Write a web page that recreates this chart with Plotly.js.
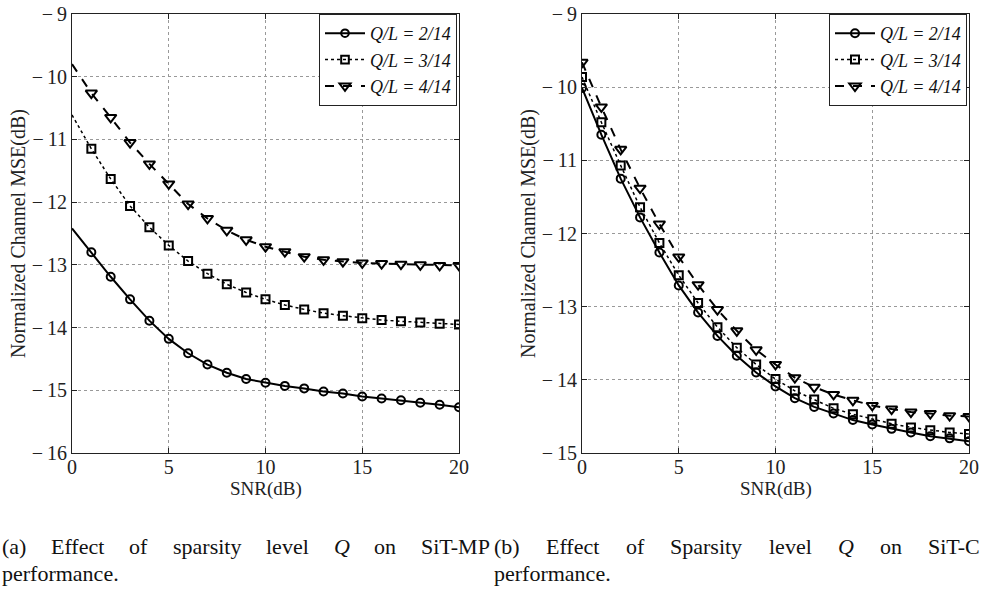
<!DOCTYPE html>
<html>
<head>
<meta charset="utf-8">
<script src="https://cdn.plot.ly/plotly-3.0.1.min.js"></script>
<style>
html,body{margin:0;padding:0;background:#fff;}
#chart{width:981px;height:590px;}
</style>
</head>
<body>
<div id="chart"></div>
<script>
// ---- data ----
const snr = [0,1,2,3,4,5,6,7,8,9,10,11,12,13,14,15,16,17,18,19,20];
const seriesNames = ["Q/L = 2/14", "Q/L = 3/14", "Q/L = 4/14"];

// (a) SiT-MP
const mpQ2 = [-12.42,-12.80,-13.19,-13.55,-13.89,-14.18,-14.41,-14.59,-14.72,-14.82,-14.88,-14.93,-14.97,-15.02,-15.05,-15.10,-15.13,-15.16,-15.20,-15.23,-15.27];
const mpQ3 = [-10.61,-11.15,-11.63,-12.06,-12.40,-12.69,-12.94,-13.14,-13.31,-13.44,-13.55,-13.64,-13.71,-13.77,-13.81,-13.85,-13.88,-13.90,-13.92,-13.94,-13.95];
const mpQ4 = [-9.80,-10.26,-10.65,-11.05,-11.39,-11.71,-12.03,-12.26,-12.45,-12.60,-12.71,-12.79,-12.87,-12.92,-12.95,-12.97,-12.98,-12.99,-13.00,-13.01,-13.01];

// (b) SiT-C
const cQ2 = [-10.01,-10.65,-11.25,-11.78,-12.26,-12.71,-13.08,-13.40,-13.67,-13.90,-14.09,-14.25,-14.37,-14.46,-14.55,-14.61,-14.67,-14.72,-14.77,-14.80,-14.84];
const cQ3 = [-9.86,-10.48,-11.07,-11.64,-12.13,-12.57,-12.95,-13.28,-13.56,-13.79,-13.99,-14.15,-14.27,-14.39,-14.47,-14.54,-14.60,-14.65,-14.69,-14.72,-14.74];
const cQ4 = [-9.66,-10.27,-10.85,-11.38,-11.87,-12.32,-12.70,-13.04,-13.33,-13.59,-13.79,-13.97,-14.10,-14.20,-14.28,-14.35,-14.40,-14.44,-14.46,-14.49,-14.50];

const xTicks = [0,5,10,15,20];
const yTicksA = [-16,-15,-14,-13,-12,-11,-10,-9];
const yTicksB = [-15,-14,-13,-12,-11,-10,-9];
const xTitle = "SNR(dB)";
const yTitle = "Normalized Channel MSE(dB)";
const captionA1 = ["(a)", "Effect", "of", "sparsity", "level", "<i>Q</i>", "on", "SiT-MP"];
const captionA2 = "performance.";
const captionB1 = ["(b)", "Effect", "of", "Sparsity", "level", "<i>Q</i>", "on", "SiT-C"];
const captionB2 = "performance.";

// ---- styles ----
const FONT = "Liberation Serif";
const W = 981, H = 590;
const M = {l:0, r:0, t:14, b:137};
const plotH = H - M.t - M.b;

const symbols = ["circle-open", "square-open", "triangle-down-open"];
const dashes = ["solid", "dot", "dash"];
const msize = [8, 8, 10];

function mk(y, i, xa, ya, leg, hideFirst) {
  const sizes = y.map((v, k) => (hideFirst && k === 0) ? 0 : msize[i]);
  return {
    x: snr, y: y, xaxis: xa, yaxis: ya, type: "scatter", mode: "lines+markers",
    name: "<i>" + seriesNames[i] + "</i>", legend: leg,
    line: {color: "#000", width: i === 1 ? 1.5 : 2, dash: dashes[i]},
    marker: {symbol: symbols[i], size: sizes, color: "#000", opacity: 1, line: {color: "#000", width: 2}}
  };
}

const traces = [
  mk(mpQ2, 0, "x", "y", "legend", true),
  mk(mpQ3, 1, "x", "y", "legend", true),
  mk(mpQ4, 2, "x", "y", "legend", true),
  mk(cQ2, 0, "x2", "y2", "legend2", false),
  mk(cQ3, 1, "x2", "y2", "legend2", false),
  mk(cQ4, 2, "x2", "y2", "legend2", false)
];

const TICKFONT = {family: FONT, size: 20, color: "#222"};
function xax(domain, anchor) {
  return {
    domain: domain, anchor: anchor, range: [0, 20], tickvals: xTicks,
    ticks: "inside", ticklen: 5, tickcolor: "#222", mirror: "allticks",
    showline: true, linecolor: "#222", linewidth: 1, ticklabelstandoff: -4,
    showgrid: true, gridcolor: "#999", griddash: "dot", gridwidth: 1,
    zeroline: false, tickfont: TICKFONT
  };
}
function yax(range, anchor, vals) {
  return {
    anchor: anchor, range: range, tickvals: vals,
    ticktext: vals.map(v => (v < 0 ? "\u2212\u2009" : "") + Math.abs(v)),
    ticks: "inside", ticklen: 5, tickcolor: "#222", mirror: "allticks",
    showline: true, linecolor: "#222", linewidth: 1,
    showgrid: true, gridcolor: "#999", griddash: "dot", gridwidth: 1,
    zeroline: false, tickfont: TICKFONT,
    title: {text: yTitle, font: {family: FONT, size: 20, color: "#222"}, standoff: 0}
  };
}

function pxToPaperY(py) { return (H - M.b - py) / plotH; }
const annotations = [];

// x-axis titles
[[72, 459], [582, 969]].forEach(([a, b]) => {
  annotations.push({text: xTitle, xref: "paper", yref: "paper", x: (a + b) / 2 / W, y: pxToPaperY(489),
    xanchor: "center", yanchor: "middle", showarrow: false, font: {family: FONT, size: 19, color: "#222"}});
});

// caption annotations (justified words)
const CAP_SIZE = 22;
const ctx = document.createElement("canvas").getContext("2d");
function wordWidth(w) {
  const italic = w.indexOf("<i>") >= 0;
  const t = w.replace(/<\/?i>/g, "");
  ctx.font = (italic ? "italic " : "") + CAP_SIZE + "px '" + FONT + "'";
  return ctx.measureText(t).width;
}
function justify(words, x0, x1, py) {
  const widths = words.map(wordWidth);
  const total = widths.reduce((a, b) => a + b, 0);
  const gap = (x1 - x0 - total) / (words.length - 1);
  let x = x0;
  words.forEach((w, k) => {
    annotations.push({text: w, xref: "paper", yref: "paper", x: x / W, y: pxToPaperY(py),
      xanchor: "left", yanchor: "middle", showarrow: false,
      font: {family: FONT, size: CAP_SIZE, color: "#111"}});
    x += widths[k] + gap;
  });
}
justify(captionA1, 0, 488, 546);
justify(captionB1, 492, 978, 546);
annotations.push({text: captionA2, xref: "paper", yref: "paper", x: 0, y: pxToPaperY(573),
  xanchor: "left", yanchor: "middle", showarrow: false, font: {family: FONT, size: CAP_SIZE, color: "#111"}});
annotations.push({text: captionB2, xref: "paper", yref: "paper", x: 492 / W, y: pxToPaperY(573),
  xanchor: "left", yanchor: "middle", showarrow: false, font: {family: FONT, size: CAP_SIZE, color: "#111"}});

const legendStyle = (xr) => ({
  x: xr, y: 1, xanchor: "right", yanchor: "top",
  bgcolor: "#fff", bordercolor: "#222", borderwidth: 1,
  font: {family: FONT, size: 18, color: "#111"}, tracegroupgap: 0, itemwidth: 40
});

const layout = {
  width: W, height: H, margin: M, paper_bgcolor: "#fff", plot_bgcolor: "#fff",
  showlegend: true,
  xaxis: xax([72 / W, 459 / W], "y"),
  yaxis: yax([-16, -9], "x", yTicksA),
  xaxis2: xax([582 / W, 969 / W], "y2"),
  yaxis2: yax([-15, -9], "x2", yTicksB),
  legend: legendStyle(457 / W),
  legend2: legendStyle(967 / W),
  annotations: annotations
};

Plotly.newPlot("chart", traces, layout, {displayModeBar: false, staticPlot: true});
</script>
</body>
</html>
